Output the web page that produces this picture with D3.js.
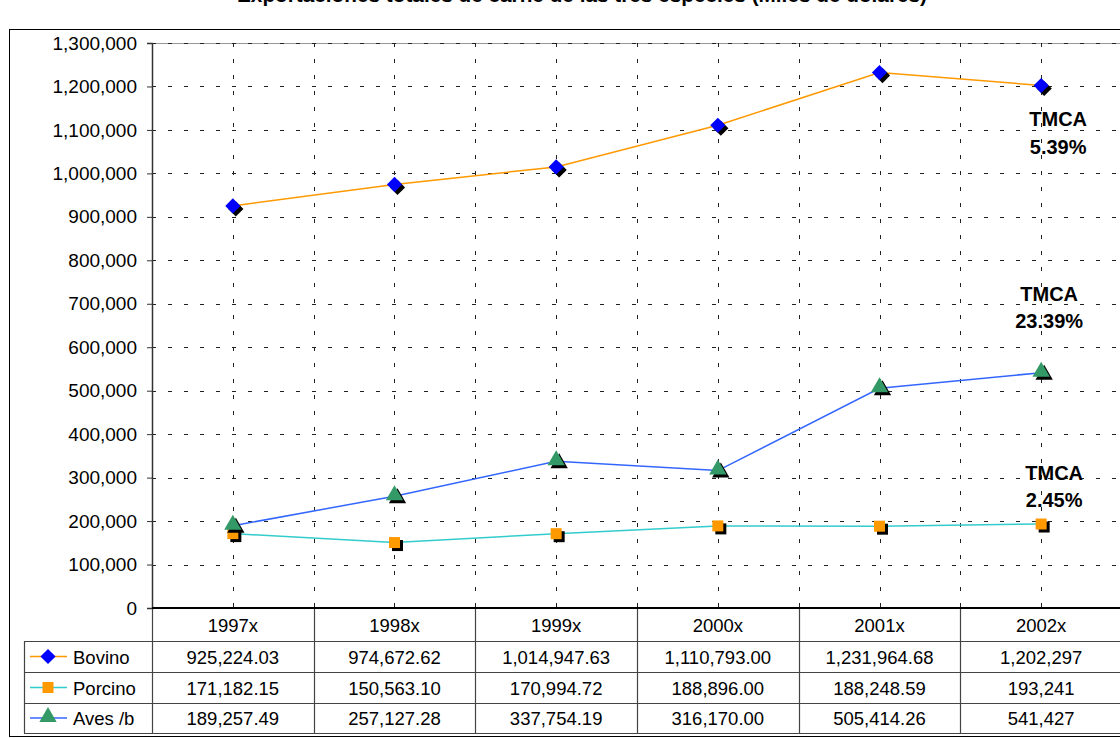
<!DOCTYPE html>
<html>
<head>
<meta charset="utf-8">
<script src="https://cdn.jsdelivr.net/npm/d3@7/dist/d3.min.js"></script>
<style>
  html, body { margin: 0; padding: 0; background: #fff; overflow: hidden; }
  svg { display: block; font-family: Arial, "Liberation Sans", sans-serif; }
</style>
</head>
<body>
<svg id="chart" width="1120" height="738"></svg>
<script>
// ---- data ----
const years = ["1997x", "1998x", "1999x", "2000x", "2001x", "2002x"];
const bovino  = [925224.03, 974672.62, 1014947.63, 1110793.00, 1231964.68, 1202297];
const porcino = [171182.15, 150563.10, 170994.72, 188896.00, 188248.59, 193241];
const aves    = [189257.49, 257127.28, 337754.19, 316170.00, 505414.26, 541427];
const tableDecimals = [2, 2, 2, 2, 2, 0];
const yTicks = [0, 100000, 200000, 300000, 400000, 500000, 600000, 700000,
                800000, 900000, 1000000, 1100000, 1200000, 1300000];
const tmcaLabels = ["5.39%", "2.45%", "23.39%"];
const titleText = "Exportaciones totales de carne de las tres especies (Miles de dólares)";

const series = [
  { name: "Bovino",  values: bovino,  line: "#FF9900", fill: "#0000FF", shape: "diamond",  tmca: tmcaLabels[0], dx: 17, dy: [34, 62] },
  { name: "Porcino", values: porcino, line: "#33CCCC", fill: "#FF9900", shape: "square",   tmca: tmcaLabels[1], dx: 13, dy: [-51, -24] },
  { name: "Aves /b", values: aves,    line: "#3366FF", fill: "#339966", shape: "triangle", tmca: tmcaLabels[2], dx: 8,  dy: [-79, -52] }
];

// ---- layout ----
const svg = d3.select("#chart");
const plot = { left: 152, right: 1122, top: 43, bottom: 608 };
const rowH = [641, 672, 703, 733];
const tableFont = 18.5;

const x = d3.scaleBand().domain(years).range([plot.left, plot.right]).padding(0);
const y = d3.scaleLinear().domain([0, 1300000]).range([plot.bottom, plot.top]);
const cx = d => x(d) + x.bandwidth() / 2;

// outer frame
svg.append("rect")
  .attr("x", 9.5).attr("y", 29.5).attr("width", 1200).attr("height", 707)
  .attr("fill", "none").attr("stroke", "#000").attr("stroke-width", 1);

// title (partially cut at the top edge, as in the reference)
svg.append("text")
  .attr("x", 582).attr("y", 2)
  .attr("text-anchor", "middle")
  .attr("font-weight", "bold").attr("font-size", 21)
  .attr("textLength", 690).attr("lengthAdjust", "spacingAndGlyphs")
  .text(titleText);

// gridlines
const grid = svg.append("g");
grid.append("line")
  .attr("x1", plot.left).attr("x2", plot.right)
  .attr("y1", y(1300000) + 0.5).attr("y2", y(1300000) + 0.5)
  .attr("stroke", "#999").attr("stroke-width", 1);
grid.selectAll("line.h").data(yTicks.filter(v => v > 0)).join("line")
  .attr("class", "h")
  .attr("x1", plot.left).attr("x2", plot.right)
  .attr("y1", d => Math.round(y(d)) + 0.5).attr("y2", d => Math.round(y(d)) + 0.5)
  .attr("stroke", "#222").attr("stroke-width", 1).attr("stroke-dasharray", "4,12");
const vPos = [];
years.forEach((yr, i) => {
  if (i > 0) vPos.push(x(yr));
  vPos.push(cx(yr));
});
grid.selectAll("line.v").data(vPos).join("line")
  .attr("class", "v")
  .attr("x1", d => Math.round(d) + 0.5).attr("x2", d => Math.round(d) + 0.5)
  .attr("y1", plot.top).attr("y2", plot.bottom)
  .attr("stroke", "#222").attr("stroke-width", 1).attr("stroke-dasharray", "4,12");

// y axis
const yAxis = svg.append("g")
  .attr("transform", `translate(${plot.left},0)`)
  .call(d3.axisLeft(y).tickValues(yTicks).tickFormat(d3.format(",")).tickSize(5).tickPadding(10));
yAxis.select(".domain").attr("stroke", "#333").attr("stroke-width", 1.5);
yAxis.selectAll(".tick line").attr("stroke", "#333");
yAxis.selectAll("text").attr("font-size", 19).attr("fill", "#000")
  .attr("font-family", "Arial, 'Liberation Sans', sans-serif");

// table lines
const tbl = svg.append("g").attr("stroke", "#444").attr("stroke-width", 1.2);
const bounds = years.map(yr => x(yr)).concat([plot.right]);
tbl.selectAll("line.tv").data(bounds).join("line")
  .attr("class", "tv")
  .attr("x1", d => Math.round(d) + 0.5).attr("x2", d => Math.round(d) + 0.5)
  .attr("y1", plot.bottom).attr("y2", rowH[3]);
tbl.selectAll("line.th").data(rowH).join("line")
  .attr("class", "th")
  .attr("x1", 24).attr("x2", plot.right)
  .attr("y1", d => d + 0.5).attr("y2", d => d + 0.5);
tbl.append("line")
  .attr("x1", 24.5).attr("x2", 24.5).attr("y1", rowH[0]).attr("y2", rowH[3]);

// x axis line
svg.append("line")
  .attr("x1", plot.left).attr("x2", plot.right)
  .attr("y1", plot.bottom).attr("y2", plot.bottom)
  .attr("stroke", "#000").attr("stroke-width", 2);

// header year labels
svg.append("g").selectAll("text").data(years).join("text")
  .attr("x", d => cx(d)).attr("y", (plot.bottom + rowH[0]) / 2 + 7)
  .attr("text-anchor", "middle").attr("font-size", tableFont)
  .text(d => d);

// marker shapes
function symbolFor(shape) {
  if (shape === "diamond") return d3.symbol().type(d3.symbolSquare).size(115)();
  if (shape === "square") return d3.symbol().type(d3.symbolSquare).size(121)();
  return d3.symbol().type(d3.symbolTriangle).size(130)();
}
function drawMarker(g, shape, fill, px, py, shadow) {
  const rot = shape === "diamond" ? " rotate(45)" : "";
  const dyT = shape === "triangle" ? -1 : 0;
  if (shadow) {
    g.append("path").attr("d", symbolFor(shape))
      .attr("transform", `translate(${px + 3},${py + 3 + dyT})${rot}`)
      .attr("fill", "#000");
  }
  g.append("path").attr("d", symbolFor(shape))
    .attr("transform", `translate(${px},${py + dyT})${rot}`)
    .attr("fill", fill);
}

// lines
const lineGen = d3.line().x((d, i) => cx(years[i])).y(d => y(d));
series.forEach(s => {
  svg.append("path").datum(s.values)
    .attr("d", lineGen).attr("fill", "none")
    .attr("stroke", s.line).attr("stroke-width", 1.5);
});
// markers
series.forEach(s => {
  const g = svg.append("g");
  s.values.forEach((v, i) => drawMarker(g, s.shape, s.fill, cx(years[i]), y(v), true));
});

// TMCA labels
series.forEach(s => {
  const last = s.values[s.values.length - 1];
  const px = cx(years[years.length - 1]) + s.dx;
  const py = y(last);
  const g = svg.append("g").attr("font-weight", "bold").attr("font-size", 20).attr("text-anchor", "middle");
  g.append("text").attr("x", px).attr("y", py + s.dy[0] + 7).text("TMCA");
  g.append("text").attr("x", px).attr("y", py + s.dy[1] + 7).text(s.tmca);
});

// table rows: legend + values
series.forEach((s, r) => {
  const top = rowH[r], bot = rowH[r + 1];
  const mid = (top + bot) / 2;
  const g = svg.append("g");
  g.append("line").attr("x1", 30).attr("x2", 67).attr("y1", mid).attr("y2", mid)
    .attr("stroke", s.line).attr("stroke-width", 1.5);
  drawMarker(g, s.shape, s.fill, 48, mid, false);
  g.append("text").attr("x", 73).attr("y", mid + 7).attr("font-size", tableFont).text(s.name);
  g.selectAll("text.v").data(s.values).join("text")
    .attr("class", "v")
    .attr("x", (d, i) => cx(years[i])).attr("y", mid + 7)
    .attr("text-anchor", "middle").attr("font-size", tableFont)
    .text((d, i) => d3.format(`,.${tableDecimals[i]}f`)(d));
});
</script>
</body>
</html>
